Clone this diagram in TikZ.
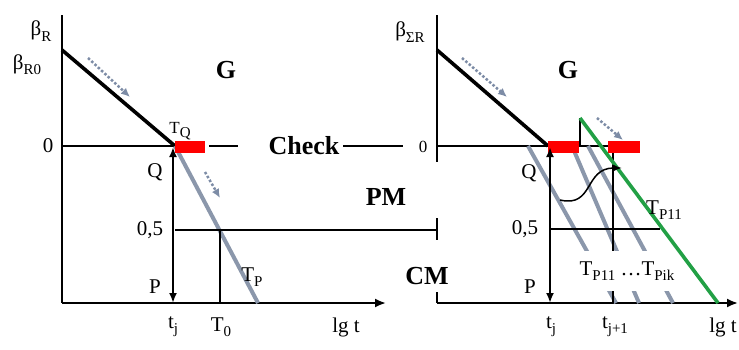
\documentclass[tikz,border=0pt]{standalone}
\usepackage{fontspec}
\setmainfont{Liberation Serif}
\usepackage{tikz}
\usetikzlibrary{arrows.meta}
\definecolor{ckslate}{HTML}{8B97AB}
\definecolor{ckdot}{HTML}{7D8CA6}
\definecolor{ckred} {HTML}{FF0000}
\definecolor{ckgreen}{HTML}{22A045}
\newcommand{\lowsub}[1]{\raisebox{-0.55ex}{\fontsize{15}{15}\selectfont #1}}

\begin{document}
\begin{tikzpicture}[x=1pt, y=-1pt,
    every node/.style={font=\fontsize{21}{21}\selectfont, inner sep=0pt},
    big/.style={font=\fontsize{26}{26}\selectfont\bfseries},
    axis/.style={line width=2pt},
    rule/.style={line width=1.4pt},
    load/.style={line width=3.6pt},
    decay/.style={ckslate, line width=4pt},
    flow/.style={ckdot, line width=2.5pt, dotted, -{Latex[length=9pt,width=8pt]}},
    alarm/.style={fill=ckred},
    twoway/.style={line width=2pt, {Latex[length=10pt,width=8pt]}-{Latex[length=10pt,width=8pt]}}]
      \useasboundingbox (0,0) rectangle (739,349);
      % left panel
      \coordinate (lTop) at (62,15);
      \coordinate (lO)   at (62,146);
      \coordinate (lB)   at (62,303);
      \coordinate (lEnd) at (386,303);
      \coordinate (lR0)  at (62,50);
      \coordinate (lTQ)  at (175,146);
      \coordinate (lTP)  at (258,303);
      \draw[axis] (lTop) -- (lB);
      \draw[axis, -{Latex[length=11pt,width=9pt]}] (lB) -- (lEnd);
      \draw[axis] (lO) -- (lTQ);
      \draw[load] (lR0) -- (lTQ);
      \draw[decay] (lTQ) -- (lTP);
      \fill[alarm] (175,141) rectangle (205,153);
      \draw[rule] (175,230) -- (437,230);
      \draw[rule] (220,230) -- (220,303);
      \draw[twoway] (173,147) -- (173,303);
      \draw[axis] (209,146) -- (238,146);
      \draw[axis] (343,146) -- (403,146);
      \draw[flow] (88,58) -- (130,97);
      \draw[flow] (205,172) -- (220,198);
      \node (bR)  at (41,31)   {β\lowsub{R}};
      \node (bR0) at (27,65)   {β\lowsub{R0}};
      \node (zL)  at (48,146)  {0};
      \node[big] (gL) at (226,70) {G};
      \node[font=\fontsize{17}{17}\selectfont] (tq) at (180,131) {T\lowsub{Q}};
      \node (qL)  at (155,172) {Q};
      \node (hL)  at (150,230) {0,5};
      \node (pL)  at (155,287) {P};
      \node (tpL) at (252,277) {T\lowsub{P}};
      \node (tjL) at (173,327) {t\lowsub{j}};
      \node (t0L) at (221,327) {T\lowsub{0}};
      \node (lgL) at (346,327) {lg t};
      \node[big] (chk) at (304,146) {Check};
      \node[big] (pm)  at (386,197) {PM};
      \node[big] (cm)  at (427,276) {CM};
      % right panel
      \coordinate (rTop) at (437,15);
      \coordinate (rO)   at (437,146);
      \coordinate (rB)   at (437,303);
      \coordinate (rEnd) at (738,303);
      \coordinate (rR0)  at (437,50);
      \coordinate (rTQ)  at (548,146);
      \coordinate (rJmp) at (580,118);
      \coordinate (rTP)  at (718,303);
      \draw[axis] (rTop) -- (437,162);
      \draw[axis] (437,218) -- (437,240);
      \draw[axis] (437,292) -- (rB);
      \draw[axis, -{Latex[length=11pt,width=9pt]}] (rB) -- (rEnd);
      \draw[axis] (rO) -- (640,146);
      \draw[axis] (580,146) -- (rJmp);
      \draw[load] (rR0) -- (rTQ);
      \draw[decay] (528,146) -- (616,303);
      \draw[decay] (572,146) -- (639,303);
      \draw[decay] (588,146) -- (673,303);
      \draw[rule] (613,146) -- (613,303);
      \draw[rule] (550,229) -- (660,229);
      \draw[ckgreen, line width=3.6pt] (rJmp) -- (rTP);
      \fill[alarm] (548,141) rectangle (579,153);
      \fill[alarm] (608,141) rectangle (640,153);
      \draw[twoway] (550,147) -- (550,303);
      \draw[line width=1.5pt, -{Latex[length=9pt,width=7pt]}]
        (560,200) .. controls (594,208) and (584,168) .. (622,168);
      \draw[flow] (462,58) -- (507,97);
      \draw[flow] (597,118) -- (623,140);
      \node (bS)  at (410,32)  {β\lowsub{ΣR}};
      \node[font=\fontsize{17}{17}\selectfont] (zR) at (423,147) {0};
      \node[big] (gR) at (568,70) {G};
      \node (qR)  at (529,173) {Q};
      \node (hR)  at (525,229) {0,5};
      \node (pR)  at (530,287) {P};
      \node (tp11) at (664,210) {T\lowsub{P11}};
      \node[fill=white, inner xsep=2pt, inner ysep=10pt] (tpik) at (627,271)
        {T\lowsub{P11} …T\lowsub{Pik}};
      \node (tjR) at (551,327) {t\lowsub{j}};
      \node (tj1) at (615,327) {t\lowsub{j+1}};
      \node (lgR) at (723,327) {lg t};
\end{tikzpicture}
\end{document}
